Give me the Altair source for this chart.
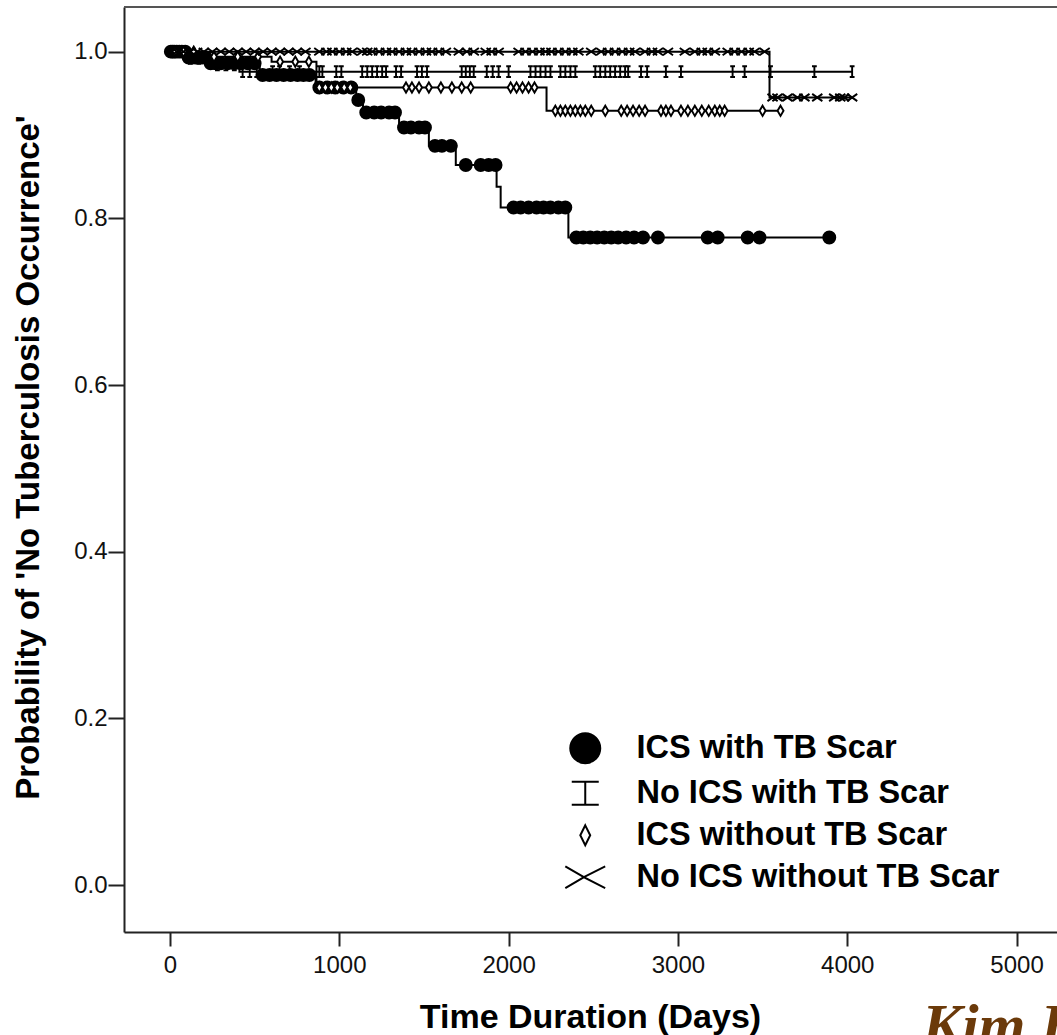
import altair as alt
import numpy as np
import pandas as pd

# ---- groups -----------------------------------------------------------
groups = ["ICS with TB Scar", "No ICS with TB Scar",
          "ICS without TB Scar", "No ICS without TB Scar"]

# ---- Kaplan-Meier steps: start day of each step and survival level ------
ics_scar_t = [0, 100, 225, 530, 860, 1100, 1140, 1353, 1529, 1688, 1929, 1953, 2353]
ics_scar_s = [1.0, 0.993, 0.986, 0.972, 0.957, 0.942, 0.927, 0.909, 0.887, 0.864, 0.838, 0.813, 0.777]
ics_scar_end = 3894

noics_scar_t = [0, 80, 250, 410]
noics_scar_s = [1.0, 0.992, 0.984, 0.976]
noics_scar_end = 4029

ics_noscar_t = [0, 200, 600, 865, 2224]
ics_noscar_s = [1.0, 0.994, 0.988, 0.957, 0.929]
ics_noscar_end = 3606

noics_noscar_t = [0, 3541]
noics_noscar_s = [1.0, 0.945]
noics_noscar_end = 4029

# ---- censored observations (days) ------------------------------------
ics_scar_cens = [5, 15, 25, 40, 55, 70, 90, 110, 130, 150, 170, 190, 210,
                 240, 270, 300, 340, 380, 420, 460, 500,
                 547, 588, 629, 671, 712, 753, 788, 823,
                 882, 929, 976, 1024, 1071, 1112,
                 1159, 1206, 1247, 1294, 1329, 1382, 1423, 1471, 1506,
                 1565, 1606, 1659, 1747, 1835, 1882, 1923,
                 2029, 2071, 2118, 2165, 2206, 2247, 2294, 2335,
                 2400, 2441, 2482, 2523, 2565, 2606, 2647, 2694, 2741, 2794,
                 2882, 3176, 3235, 3412, 3482, 3894]

noics_scar_cens = [20, 50, 120, 170, 220, 280, 330, 380,
                   429, 471, 512, 606, 647, 706, 765, 882, 900, 982, 1012,
                   1135, 1165, 1194, 1223, 1253, 1276, 1335, 1365,
                   1459, 1488, 1518, 1723, 1747, 1771, 1794, 1871, 1906, 1941,
                   2000, 2129, 2159, 2188, 2218, 2247, 2306, 2335, 2365, 2394,
                   2512, 2541, 2571, 2600, 2629, 2659, 2688, 2706, 2782, 2818,
                   2929, 3018, 3323, 3394, 3547, 3806, 4029]

ics_noscar_cens = [30, 80, 140, 260, 400, 520, 650, 740, 820,
                   882, 918, 953, 988, 1029, 1065, 1394, 1429, 1471, 1529,
                   1600, 1665, 1723, 1776, 2012, 2047, 2082, 2118, 2153,
                   2276, 2306, 2335, 2365, 2394, 2424, 2453, 2488, 2571,
                   2665, 2700, 2735, 2771, 2806, 2900, 2929, 2959,
                   3018, 3059, 3100, 3141, 3182, 3218, 3247, 3276, 3500, 3606]

noics_noscar_cens = [10, 40, 80, 120, 160, 200, 250, 300, 350, 400, 450, 500,
                     550, 600, 650, 700, 750, 800,
                     882, 924, 959, 1000, 1041, 1076, 1135, 1165, 1194, 1235,
                     1276, 1312, 1353, 1394, 1429, 1471, 1512, 1547, 1588, 1629,
                     1706, 1753, 1794, 1865, 1900, 1941, 2059, 2100, 2141, 2182,
                     2218, 2253, 2294, 2335, 2376, 2412, 2488, 2547, 2588, 2629,
                     2671, 2712, 2747, 2806, 2847, 2882, 2941, 3041, 3100, 3141,
                     3176, 3218, 3294, 3335, 3376, 3418, 3453, 3512,
                     3559, 3588, 3647, 3706, 3747, 3823, 3923, 3959, 3982, 4029]

x_ticks = [0, 1000, 2000, 3000, 4000, 5000]
y_ticks = [0.0, 0.2, 0.4, 0.6, 0.8, 1.0]
x_title = "Time Duration (Days)"
y_title = "Probability of 'No Tuberculosis Occurrence'"
caption = "Kim H"

curves = [
    (ics_scar_t, ics_scar_s, ics_scar_end, ics_scar_cens),
    (noics_scar_t, noics_scar_s, noics_scar_end, noics_scar_cens),
    (ics_noscar_t, ics_noscar_s, ics_noscar_end, ics_noscar_cens),
    (noics_noscar_t, noics_noscar_s, noics_noscar_end, noics_noscar_cens),
]

# ---- tables -----------------------------------------------------------
line_rows, cens_rows = [], []
for name, (t, s, end, cens) in zip(groups, curves):
    for ti, si in zip(t, s):
        line_rows.append({"group": name, "t": ti, "s": si})
    line_rows.append({"group": name, "t": end, "s": s[-1]})
    t_arr = np.asarray(t)
    for c in cens:
        k = int(np.searchsorted(t_arr, c, side="right")) - 1
        cens_rows.append({"group": name, "t": c, "s": s[k]})
line_df = pd.DataFrame(line_rows)
cens_df = pd.DataFrame(cens_rows)
one = pd.DataFrame({"k": [0]})

# ---- marker shapes ----------------------------------------------------
plot_shapes = [
    "circle",
    "M -0.4 -0.9 L 0.4 -0.9 M 0 -0.9 L 0 0.9 M -0.4 0.9 L 0.4 0.9",
    "M 0 -0.85 L 0.5 0 L 0 0.85 L -0.5 0 Z",
    "M -0.85 -0.6 L 0.85 0.6 M -0.85 0.6 L 0.85 -0.6",
]
legend_shapes = [
    "circle",
    "M -0.9 -0.76 L 0.9 -0.76 M 0 -0.76 L 0 0.76 M -0.9 0.76 L 0.9 0.76",
    "M 0 -0.66 L 0.33 0 L 0 0.66 L -0.33 0 Z",
    "M -1.33 -0.72 Q 0 0.1 1.33 0.72 M -1.33 0.72 Q 0 -0.1 1.33 -0.72",
]
fills = ["black", "transparent", "white", "transparent"]
strokes = ["black", "black", "black", "black"]

W, H = 933, 925
x_enc = alt.X("t:Q",
              scale=alt.Scale(domain=[-271.7, 5239.0], nice=False, zero=False),
              axis=alt.Axis(values=x_ticks, format="d", title=x_title,
                            tickSize=14, labelPadding=7,
                            titleX=466, titleY=95, titleAlign="center",
                            titleBaseline="alphabetic"))
y_enc = alt.Y("s:Q",
              scale=alt.Scale(domain=[-0.0564, 1.0536], nice=False, zero=False),
              axis=alt.Axis(values=y_ticks, format=".1f", title=y_title,
                            tickSize=16, labelPadding=1,
                            titleX=-86, titleY=450, titleAngle=270,
                            titleAlign="center", titleBaseline="alphabetic",
                            titleFontSize=33))

lines = alt.Chart(line_df).mark_line(
    interpolate="step-after", color="black", strokeWidth=2
).encode(x=x_enc, y=y_enc, detail="group:N")

points = alt.Chart(cens_df).mark_point(
    filled=True, stroke="black", strokeWidth=1.9, opacity=1, size=144
).encode(
    x=x_enc, y=y_enc,
    shape=alt.Shape("group:N", scale=alt.Scale(domain=groups, range=plot_shapes), legend=None),
    fill=alt.Fill("group:N", scale=alt.Scale(domain=groups, range=fills), legend=None),
)

legend_props = dict(
    orient="none", legendX=445, legendY=725, title=None, padding=0,
    symbolSize=900, symbolStrokeWidth=2, symbolStrokeColor="black",
    labelFont="Liberation Sans", labelFontWeight="bold", labelFontSize=32.5,
    labelColor="black", labelOffset=35, rowPadding=9, labelLimit=600,
)
legend_layer = alt.Chart(line_df).transform_filter("false").mark_point(
    filled=True, strokeWidth=2, opacity=1
).encode(
    x=x_enc, y=y_enc,
    shape=alt.Shape("group:N", scale=alt.Scale(domain=groups, range=legend_shapes),
                    legend=alt.Legend(**legend_props)),
    fill=alt.Fill("group:N", scale=alt.Scale(domain=groups, range=fills),
                  legend=alt.Legend(**legend_props)),
    stroke=alt.Stroke("group:N", scale=alt.Scale(domain=groups, range=strokes),
                      legend=alt.Legend(**legend_props)),
)

frame_top = alt.Chart(one).mark_rule(color="#555555", strokeWidth=2).encode(
    x=alt.value(0), x2=alt.value(W), y=alt.value(0)
)

caption_mark = alt.Chart(one).mark_text(
    text=caption, font="Liberation Serif", fontStyle="italic", fontWeight="bold",
    fontSize=60, color="#6b3a0a", align="left", baseline="alphabetic"
).encode(x=alt.value(798), y=alt.value(1038))

chart = alt.layer(lines, points, legend_layer, frame_top, caption_mark).resolve_scale(
    shape="independent", fill="independent", stroke="independent"
).properties(
    width=W, height=H,
    padding={"left": 124, "top": 7, "right": 0, "bottom": 103},
    autosize=alt.AutoSizeParams(type="none"),
    background="white",
).configure_view(stroke=None).configure_axis(
    grid=False,
    domainColor="#222222", domainWidth=2,
    tickColor="#222222", tickWidth=2,
    labelFont="Liberation Sans", labelFontSize=24, labelColor="#111111",
    titleFont="Liberation Sans", titleFontSize=34, titleFontWeight="bold",
    titleColor="black", labelFlush=False, labelOverlap=False,
)

chart.save("out.html", embed_options={"renderer": "svg", "actions": False})
